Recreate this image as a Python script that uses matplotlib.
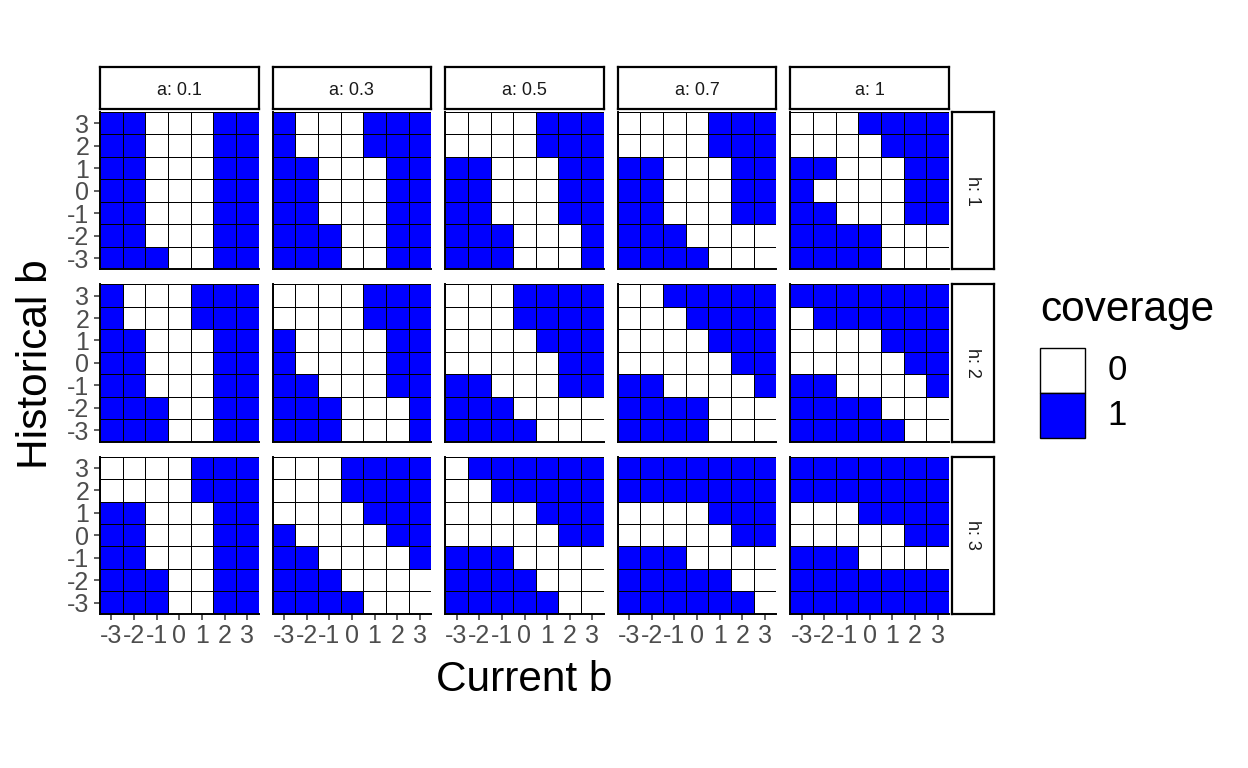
import numpy as np
import matplotlib
matplotlib.use("Agg")
import matplotlib.pyplot as plt
from matplotlib.colors import ListedColormap
from matplotlib.patches import Rectangle

plt.rcParams['font.family'] = ['Liberation Sans', 'DejaVu Sans']

# ---------------- data ----------------
current_b = [-3, -2, -1, 0, 1, 2, 3]
historical_b = [-3, -2, -1, 0, 1, 2, 3]
tick_labels = ['-3', '-2', '-1', '0', '1', '2', '3']
a_values = ['0.1', '0.3', '0.5', '0.7', '1']
h_values = ['1', '2', '3']
coverage_levels = ['0', '1']
coverage_colors = ['white', 'blue']

# each grid: rows from historical b = 3 (top) down to -3 (bottom),
# columns current b = -3 .. 3
cov_h1_a01 = [[1,1,0,0,0,1,1],[1,1,0,0,0,1,1],[1,1,0,0,0,1,1],[1,1,0,0,0,1,1],
              [1,1,0,0,0,1,1],[1,1,0,0,0,1,1],[1,1,1,0,0,1,1]]
cov_h1_a03 = [[1,0,0,0,1,1,1],[1,0,0,0,1,1,1],[1,1,0,0,0,1,1],[1,1,0,0,0,1,1],
              [1,1,0,0,0,1,1],[1,1,1,0,0,1,1],[1,1,1,0,0,1,1]]
cov_h1_a05 = [[0,0,0,0,1,1,1],[0,0,0,0,1,1,1],[1,1,0,0,0,1,1],[1,1,0,0,0,1,1],
              [1,1,0,0,0,1,1],[1,1,1,0,0,0,1],[1,1,1,0,0,0,1]]
cov_h1_a07 = [[0,0,0,0,1,1,1],[0,0,0,0,1,1,1],[1,1,0,0,0,1,1],[1,1,0,0,0,1,1],
              [1,1,0,0,0,1,1],[1,1,1,0,0,0,0],[1,1,1,1,0,0,0]]
cov_h1_a1 = [[0,0,0,1,1,1,1],[0,0,0,0,1,1,1],[1,1,0,0,0,1,1],[1,0,0,0,0,1,1],
             [1,1,0,0,0,1,1],[1,1,1,1,0,0,0],[1,1,1,1,0,0,0]]

cov_h2_a01 = [[1,0,0,0,1,1,1],[1,0,0,0,1,1,1],[1,1,0,0,0,1,1],[1,1,0,0,0,1,1],
              [1,1,0,0,0,1,1],[1,1,1,0,0,1,1],[1,1,1,0,0,1,1]]
cov_h2_a03 = [[0,0,0,0,1,1,1],[0,0,0,0,1,1,1],[1,0,0,0,0,1,1],[1,0,0,0,0,1,1],
              [1,1,0,0,0,1,1],[1,1,1,0,0,0,1],[1,1,1,0,0,0,1]]
cov_h2_a05 = [[0,0,0,1,1,1,1],[0,0,0,1,1,1,1],[0,0,0,0,1,1,1],[0,0,0,0,0,1,1],
              [1,1,0,0,0,1,1],[1,1,1,0,0,0,0],[1,1,1,1,0,0,0]]
cov_h2_a07 = [[0,0,1,1,1,1,1],[0,0,0,1,1,1,1],[0,0,0,0,1,1,1],[0,0,0,0,0,1,1],
              [1,1,0,0,0,0,1],[1,1,1,1,0,0,0],[1,1,1,1,0,0,0]]
cov_h2_a1 = [[1,1,1,1,1,1,1],[0,1,1,1,1,1,1],[0,0,0,0,1,1,1],[0,0,0,0,0,1,1],
             [1,1,0,0,0,0,1],[1,1,1,1,0,0,0],[1,1,1,1,1,0,0]]

cov_h3_a01 = [[0,0,0,0,1,1,1],[0,0,0,0,1,1,1],[1,1,0,0,0,1,1],[1,1,0,0,0,1,1],
              [1,1,0,0,0,1,1],[1,1,1,0,0,1,1],[1,1,1,0,0,1,1]]
cov_h3_a03 = [[0,0,0,1,1,1,1],[0,0,0,1,1,1,1],[0,0,0,0,1,1,1],[1,0,0,0,0,1,1],
              [1,1,0,0,0,0,1],[1,1,1,0,0,0,0],[1,1,1,1,0,0,0]]
cov_h3_a05 = [[0,1,1,1,1,1,1],[0,0,1,1,1,1,1],[0,0,0,0,1,1,1],[0,0,0,0,0,1,1],
              [1,1,1,0,0,0,0],[1,1,1,1,0,0,0],[1,1,1,1,1,0,0]]
cov_h3_a07 = [[1,1,1,1,1,1,1],[1,1,1,1,1,1,1],[0,0,0,0,1,1,1],[0,0,0,0,0,1,1],
              [1,1,1,0,0,0,0],[1,1,1,1,1,0,0],[1,1,1,1,1,1,0]]
cov_h3_a1 = [[1,1,1,1,1,1,1],[1,1,1,1,1,1,1],[0,0,0,1,1,1,1],[0,0,0,0,0,1,1],
             [1,1,1,0,0,0,0],[1,1,1,1,1,1,1],[1,1,1,1,1,1,1]]

grids = [
    [cov_h1_a01, cov_h1_a03, cov_h1_a05, cov_h1_a07, cov_h1_a1],
    [cov_h2_a01, cov_h2_a03, cov_h2_a05, cov_h2_a07, cov_h2_a1],
    [cov_h3_a01, cov_h3_a03, cov_h3_a05, cov_h3_a07, cov_h3_a1],
]

# ---------------- layout ----------------
W, H = 1248, 768
fig = plt.figure(figsize=(W / 100, H / 100), dpi=100)

def fbox(x, y, w, h):
    return [x / W, 1 - (y + h) / H, w / W, h / H]

pw, ph = 158.6, 157.3
col_left = [100 + i * 172.6 for i in range(5)]
row_top = [112 + j * 172.3 for j in range(3)]

cmap = ListedColormap(coverage_colors)
xedges = np.array(current_b + [current_b[-1] + 1]) - 0.5
yedges = np.array(historical_b + [historical_b[-1] + 1]) - 0.5
tick_color = '#4D4D4D'

for j, h in enumerate(h_values):
    for i, a in enumerate(a_values):
        ax = fig.add_axes(fbox(col_left[i], row_top[j], pw, ph))
        Z = np.array(grids[j][i])[::-1]
        ax.pcolormesh(xedges, yedges, Z, cmap=cmap, vmin=0, vmax=1,
                      edgecolors='black', linewidth=0.7)
        ax.set_xlim(xedges[0], xedges[-1])
        ax.set_ylim(yedges[0], yedges[-1])
        for s in ['top', 'right']:
            ax.spines[s].set_visible(False)
        for s in ['left', 'bottom']:
            ax.spines[s].set_linewidth(1.4)
            ax.spines[s].set_color('black')
        ax.set_xticks(current_b)
        ax.set_yticks(historical_b)
        ax.tick_params(axis='both', length=4.3, width=1.1, color='#333333',
                       labelsize=18, labelcolor=tick_color)
        ax.tick_params(axis='x', pad=3)
        ax.tick_params(axis='y', pad=3.5)
        if j == len(h_values) - 1:
            ax.set_xticklabels(tick_labels)
        else:
            ax.tick_params(axis='x', length=0, labelbottom=False)
        if i == 0:
            ax.set_yticklabels(tick_labels)
        else:
            ax.tick_params(axis='y', length=0, labelleft=False)

# strips
for i, a in enumerate(a_values):
    sax = fig.add_axes(fbox(col_left[i], 67, pw, 42))
    sax.set_xticks([]); sax.set_yticks([])
    for s in sax.spines.values():
        s.set_linewidth(1.6); s.set_color('black')
    sax.text(0.5, 0.45, f'a: {a}', ha='center', va='center', fontsize=13,
             color='#1A1A1A', transform=sax.transAxes)

for j, h in enumerate(h_values):
    sax = fig.add_axes(fbox(951.5, row_top[j], 42, ph))
    sax.set_xticks([]); sax.set_yticks([])
    for s in sax.spines.values():
        s.set_linewidth(1.6); s.set_color('black')
    sax.text(0.5, 0.5, f'h: {h}', ha='center', va='center', fontsize=13,
             rotation=-90, color='#1A1A1A', transform=sax.transAxes)

# axis titles
fig.text(524 / W, 1 - 680 / H, 'Current b', ha='center', va='center', fontsize=30.5)
fig.text(36 / W, 1 - 364 / H, 'Historical b', ha='center', va='center',
         fontsize=30.5, rotation=90)

# legend
lax = fig.add_axes(fbox(1040, 348, 45, 90))
lax.set_xlim(0, 1); lax.set_ylim(0, len(coverage_levels))
lax.axis('off')
for k, (lev, col) in enumerate(zip(coverage_levels, coverage_colors)):
    y0 = len(coverage_levels) - 1 - k
    lax.add_patch(Rectangle((0, y0), 1, 1, facecolor=col, edgecolor='black',
                            linewidth=1.0, clip_on=False))
    lax.text(1.5, y0 + 0.5, lev, ha='left', va='center', fontsize=25,
             transform=lax.transData)
fig.text(1040 / W, 1 - 310 / H, 'coverage', ha='left', va='center', fontsize=30.5)

fig.savefig('out.png', dpi=100)
